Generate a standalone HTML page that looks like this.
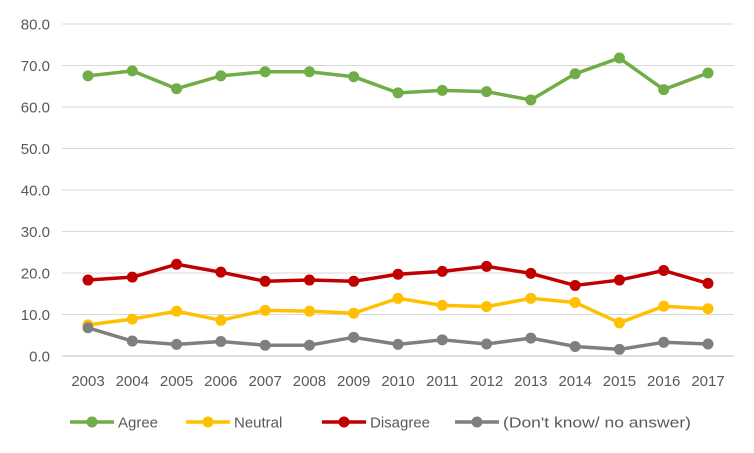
<!DOCTYPE html>
<html><head><meta charset="utf-8"><style>
body{margin:0;background:#fff;}
svg{display:block;font-family:"Liberation Sans",sans-serif;}
</style></head><body>
<svg id="chart" width="754" height="453" xmlns="http://www.w3.org/2000/svg"></svg>
<script>
const years=["2003","2004","2005","2006","2007","2008","2009","2010","2011","2012","2013","2014","2015","2016","2017"];
const yTicks=[0,10,20,30,40,50,60,70,80];
const agree=[67.5,68.7,64.4,67.5,68.5,68.5,67.3,63.4,64.0,63.7,61.7,68.0,71.8,64.2,68.2];
const neutral=[7.5,8.9,10.8,8.6,11.0,10.8,10.3,13.9,12.2,11.9,13.9,12.9,8.0,12.0,11.4];
const disagree=[18.3,19.0,22.1,20.2,18.0,18.3,18.0,19.7,20.4,21.6,19.9,17.0,18.3,20.6,17.5];
const dontKnow=[6.8,3.6,2.8,3.5,2.6,2.6,4.5,2.8,3.9,2.9,4.3,2.3,1.6,3.3,2.9];
const seriesNames=["Agree","Neutral","Disagree","(Don't know/ no answer)"];
const NS="http://www.w3.org/2000/svg";
const svg=document.getElementById('chart');
const x0=88,x1=708,yTop=24,yBot=356,ymax=80;
function xs(i){return x0+i*(x1-x0)/(years.length-1);}
function ys(v){return yBot-v/ymax*(yBot-yTop);}
function mk(t,a){const e=document.createElementNS(NS,t);for(const k in a)e.setAttribute(k,a[k]);svg.appendChild(e);return e;}
yTicks.forEach(t=>{
  const g=mk('line',{x1:62,x2:734,y1:ys(t),y2:ys(t),stroke:t===0?'#bfbfbf':'#d9d9d9','stroke-width':1});
  
  
  const l=mk('text',{x:50,y:ys(t)+5.5,'text-anchor':'end','font-size':15,fill:'#595959'});
  l.textContent=t.toFixed(1);
  
  
});
years.forEach((yr,i)=>{
  const l=mk('text',{x:xs(i),y:386,'text-anchor':'middle','font-size':15,fill:'#595959'});
  l.textContent=yr;
  
  
});
const all=[agree,neutral,disagree,dontKnow];
const colors=["#70ad47","#ffc000","#c00000","#7f7f7f"];
const keys=["agree","neutral","disagree","dont-know"];
all.forEach((d,s)=>{
  const p=mk('polyline',{points:d.map((v,i)=>xs(i)+','+ys(v)).join(' '),fill:'none',stroke:colors[s],'stroke-width':3.5,'stroke-linejoin':'round'});
  
  
  d.forEach((v,i)=>{
    const c=mk('circle',{cx:xs(i),cy:ys(v),r:5.5,fill:colors[s]});
    
    
  });
});
const legX=[70,186,322,455];
seriesNames.forEach((n,s)=>{
  const ln=mk('line',{x1:legX[s],x2:legX[s]+44,y1:422,y2:422,stroke:colors[s],'stroke-width':3.5});
  
  
  const c=mk('circle',{cx:legX[s]+22,cy:422,r:5.5,fill:colors[s]});
  
  
  const attrs={x:legX[s]+48,y:427.5,'font-size':15,fill:'#595959'};
  if(s===3){attrs.textLength=188;attrs.lengthAdjust='spacingAndGlyphs';}
  const t=mk('text',attrs);
  t.textContent=n;
  
  
});
</script>
</body></html>
